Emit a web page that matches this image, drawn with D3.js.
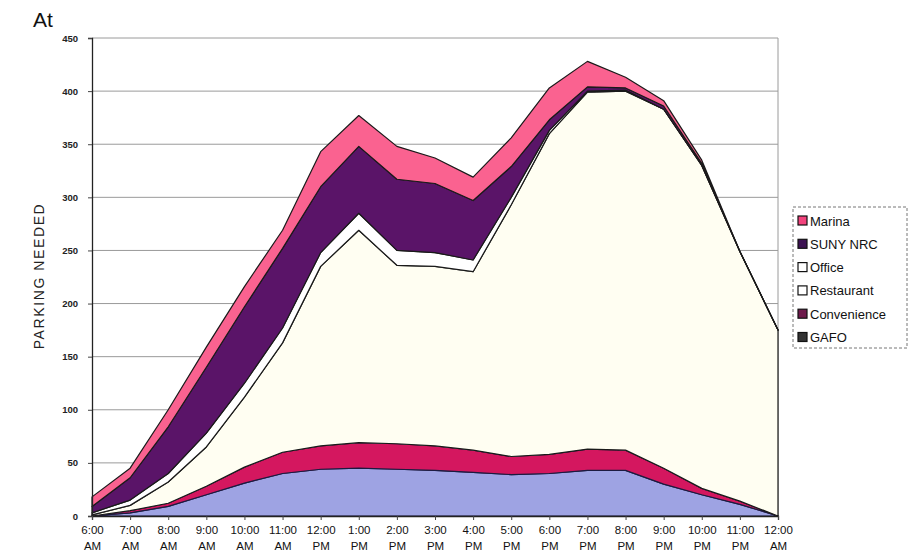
<!DOCTYPE html>
<html>
<head>
<meta charset="utf-8">
<script src="https://cdn.jsdelivr.net/npm/d3@7"></script>
<style>
  html, body { margin: 0; padding: 0; background: #fff; }
  svg { display: block; font-family: Arial, "Liberation Sans", sans-serif; }
</style>
</head>
<body>
<svg id="chart" width="915" height="556"></svg>
<script>
// ---- Data ----
const times = ["6:00 AM","7:00 AM","8:00 AM","9:00 AM","10:00 AM","11:00 AM","12:00 PM","1:00 PM","2:00 PM","3:00 PM","4:00 PM","5:00 PM","6:00 PM","7:00 PM","8:00 PM","9:00 PM","10:00 PM","11:00 PM","12:00 AM"];
const gafo        = [0, 3, 9, 20, 31, 40, 44, 45, 44, 43, 41, 39, 40, 43, 43, 30, 20, 11, 0];
const convenience = [0, 2, 3, 8, 15, 20, 22, 24, 24, 23, 21, 17, 18, 20, 19, 15, 6, 3, 0];
const restaurant  = [1, 5, 20, 37, 66, 103, 169, 200, 168, 169, 168, 237, 302, 336, 338, 338, 304, 235, 175];
const office      = [2, 5, 8, 13, 13, 14, 13, 16, 14, 13, 11, 7, 3, 1, 1, 0, 0, 0, 0];
const suny        = [6, 21, 44, 62, 72, 75, 62, 63, 67, 65, 56, 29, 10, 4, 2, 3, 2, 0, 0];
const marina      = [9, 9, 16, 19, 19, 17, 33, 29, 31, 24, 22, 27, 30, 24, 10, 5, 3, 0, 0];
const yTicks = [0, 50, 100, 150, 200, 250, 300, 350, 400, 450];
const seriesNames = ["GAFO", "Convenience", "Restaurant", "Office", "SUNY NRC", "Marina"];
const seriesValues = [gafo, convenience, restaurant, office, suny, marina];
const areaColors = ["#9ea3e3", "#d4175f", "#fffef2", "#ffffff", "#5a1468", "#fa6290"];
const legendColors = ["#333333", "#6e1a4c", "#ffffff", "#ffffff", "#3c1252", "#f2437d"];
const legendOrder = ["Marina", "SUNY NRC", "Office", "Restaurant", "Convenience", "GAFO"];

// ---- Build table ----
const table = times.map((t, i) => {
  const row = { time: t };
  seriesNames.forEach((n, k) => row[n] = seriesValues[k][i]);
  return row;
});

const svg = d3.select("#chart");
const pLeft = 92, pRight = 778, pTop = 38, pBottom = 516;

const x = d3.scalePoint().domain(times).range([pLeft, pRight]);
const y = d3.scaleLinear().domain([0, 450]).range([pBottom, pTop]);

// Title-ish text
svg.append("text").attr("x", 33).attr("y", 27).attr("font-size", 21).attr("fill", "#111").text("At");

// Gridlines
svg.append("g").selectAll("line").data(yTicks.filter(d => d > 0)).join("line")
  .attr("x1", pLeft).attr("x2", pRight)
  .attr("y1", d => y(d)).attr("y2", d => y(d))
  .attr("stroke", "#9a9a9a").attr("stroke-width", 1);
// right border
svg.append("line").attr("x1", pRight).attr("x2", pRight).attr("y1", pTop).attr("y2", pBottom)
  .attr("stroke", "#9a9a9a").attr("stroke-width", 1);

// Stack
const stack = d3.stack().keys(seriesNames);
const layers = stack(table);
const area = d3.area()
  .x(d => x(d.data.time))
  .y0(d => y(d[0]))
  .y1(d => y(d[1]));

svg.append("g").selectAll("path").data(layers).join("path")
  .attr("d", area)
  .attr("fill", (d, i) => areaColors[i])
  .attr("stroke", (d, i) => i < 2 ? "#1c1a40" : "#1a1a1a")
  .attr("stroke-width", 1.2)
  .attr("stroke-linejoin", "round");

// Axes
const yAxis = d3.axisLeft(y).tickValues(yTicks).tickSize(4).tickPadding(10);
const gy = svg.append("g").attr("transform", `translate(${pLeft},0)`).call(yAxis);
gy.select(".domain").attr("stroke", "#222").attr("stroke-width", 1.3);
gy.selectAll(".tick line").attr("stroke", "#444");
gy.selectAll(".tick text").attr("font-size", 9.5).attr("font-weight", "bold").attr("fill", "#222")
  .attr("font-family", "Arial, 'Liberation Sans', sans-serif");

const xAxis = d3.axisBottom(x).tickSize(4).tickPadding(4);
const gx = svg.append("g").attr("transform", `translate(0,${pBottom})`).call(xAxis);
gx.select(".domain").attr("stroke", "#222").attr("stroke-width", 1.3);
gx.selectAll(".tick line").attr("stroke", "#444");
gx.selectAll(".tick text").each(function(d) {
  const parts = d.split(" ");
  const t = d3.select(this).text(null)
    .attr("font-size", 11.5).attr("fill", "#111")
    .attr("font-family", "Arial, 'Liberation Sans', sans-serif");
  t.append("tspan").attr("x", 0).attr("dy", "0.88em").text(parts[0]);
  t.append("tspan").attr("x", 0).attr("dy", "1.35em").text(parts[1]);
});

// Y axis title
svg.append("text")
  .attr("transform", "translate(44,276) rotate(-90)")
  .attr("text-anchor", "middle")
  .attr("font-size", 14)
  .attr("letter-spacing", 1.6)
  .attr("fill", "#222")
  .text("PARKING NEEDED");

// Legend
const lg = svg.append("g");
lg.append("rect").attr("x", 793).attr("y", 207).attr("width", 114).attr("height", 141)
  .attr("fill", "#fff").attr("stroke", "#777").attr("stroke-width", 1).attr("stroke-dasharray", "3,2");
legendOrder.forEach((name, i) => {
  const k = seriesNames.indexOf(name);
  const cy = 221 + i * 23.3;
  lg.append("rect").attr("x", 798).attr("y", cy - 5).attr("width", 9).attr("height", 9)
    .attr("fill", legendColors[k]).attr("stroke", "#111").attr("stroke-width", 1.2);
  lg.append("text").attr("x", 810).attr("y", cy + 4.5).attr("font-size", 13).attr("fill", "#111").text(name);
});
</script>
</body>
</html>
